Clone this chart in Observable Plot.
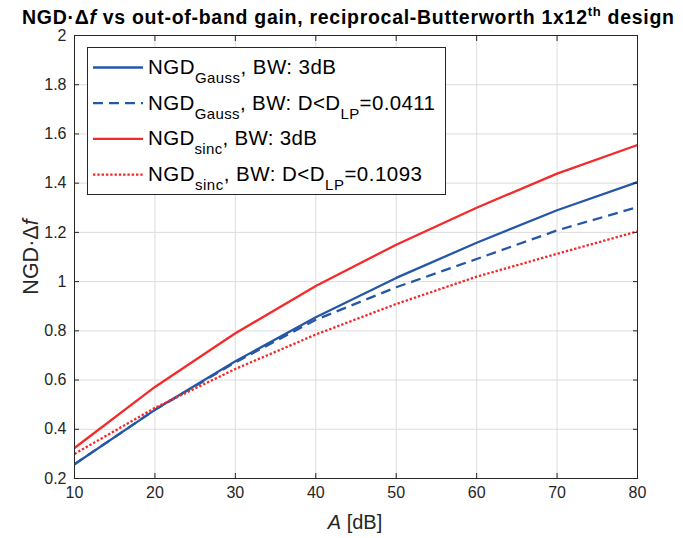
<!DOCTYPE html>
<html><head><meta charset="utf-8">
<script src="https://cdn.jsdelivr.net/npm/d3@7"></script>
<script src="https://cdn.jsdelivr.net/npm/@observablehq/plot@0.6"></script>
<style>
body{margin:0;background:#fff;}
#wrap{position:relative;width:683px;height:538px;font-family:"Liberation Sans",Arial,Helvetica,sans-serif;}
#wrap svg.overlay{position:absolute;left:0;top:0;pointer-events:none;}
</style>
</head><body>
<div id="wrap"></div>
<script>
// Data
const A = [10, 20, 30, 40, 50, 60, 70, 80];
const gauss3dB = [0.258, 0.479, 0.676, 0.855, 1.015, 1.158, 1.290, 1.404];
const gaussDLP = [0.258, 0.479, 0.672, 0.845, 0.977, 1.092, 1.208, 1.303];
const sinc3dB  = [0.324, 0.572, 0.790, 0.982, 1.150, 1.300, 1.439, 1.555];
const sincDLP  = [0.300, 0.487, 0.645, 0.785, 0.909, 1.020, 1.113, 1.204];
const xTicks = [10, 20, 30, 40, 50, 60, 70, 80];
const yTicks = [0.2, 0.4, 0.6, 0.8, 1, 1.2, 1.4, 1.6, 1.8, 2];
const yTickLabels = ["0.2","0.4","0.6","0.8","1","1.2","1.4","1.6","1.8","2"];

const BLUE = "#2557a7", RED = "#f42a2a";
const series = [
  {key: "g3", values: gauss3dB, color: BLUE, dash: null},
  {key: "gD", values: gaussDLP, color: BLUE, dash: "10,6"},
  {key: "s3", values: sinc3dB, color: RED, dash: null},
  {key: "sD", values: sincDLP, color: RED, dash: "2.4,1.9"}
];
const table = series.flatMap(s => A.map((a, i) => ({key: s.key, A: a, v: s.values[i]})));

const W = 683, H = 538;
const chart = Plot.plot({
  width: W, height: H,
  marginLeft: 74, marginRight: 46, marginTop: 35, marginBottom: 60,
  style: {fontFamily: '"Liberation Sans", Arial, sans-serif', fontSize: "16px", color: "#262626", background: "white"},
  x: {domain: [10, 80], ticks: xTicks, label: null},
  y: {domain: [0.2, 2], ticks: yTicks, label: null},
  marks: [
    Plot.gridX(xTicks, {stroke: "#dcdcdc", strokeOpacity: 1, strokeWidth: 1}),
    Plot.gridY(yTicks, {stroke: "#dcdcdc", strokeOpacity: 1, strokeWidth: 1}),
    ...series.map(s => Plot.line(table.filter(d => d.key === s.key), {
      x: "A", y: "v", stroke: s.color, strokeWidth: 2.3,
      strokeDasharray: s.dash, strokeLinecap: "butt"
    })),
    Plot.frame({stroke: "#262626", strokeWidth: 1}),
    Plot.axisX(xTicks, {anchor: "bottom", tickSize: -5, tickPadding: 13, label: null, fontSize: 16}),
    Plot.axisX(xTicks, {anchor: "top", tickSize: -5, tickFormat: () => "", label: null}),
    Plot.axisY(yTicks, {anchor: "left", tickSize: -5, tickPadding: 13, tickFormat: (d, i) => yTickLabels[i], label: null, fontSize: 16}),
    Plot.axisY(yTicks, {anchor: "right", tickSize: -5, tickFormat: () => "", label: null})
  ]
});
const wrap = document.getElementById("wrap");
wrap.appendChild(chart);

// overlay: title, axis labels, legend
const svg = d3.select(wrap).append("svg").attr("class", "overlay")
  .attr("width", W).attr("height", H)
  .style("font-family", '"Liberation Sans", Arial, sans-serif');

const title = svg.append("text").attr("x", 22).attr("y", 24)
  .attr("font-size", 19.5).attr("font-weight", "bold").attr("fill", "#000")
  .attr("textLength", 652).attr("lengthAdjust", "spacing");
title.append("tspan").text("NGD\u00B7\u0394");
title.append("tspan").attr("font-style", "italic").text("f");
title.append("tspan").text(" vs out-of-band gain, reciprocal-Butterworth 1x12");
title.append("tspan").attr("font-size", 13).attr("dy", -8).text("th");
title.append("tspan").attr("dy", 8).text(" design");

const yl = svg.append("text").attr("transform", "translate(38,257) rotate(-90)")
  .attr("text-anchor", "middle").attr("font-size", 21.5).attr("fill", "#262626");
yl.append("tspan").text("NGD\u00B7\u0394");
yl.append("tspan").attr("font-style", "italic").text("f");

const xl = svg.append("text").attr("x", 355).attr("y", 529).attr("text-anchor", "middle")
  .attr("font-size", 20).attr("fill", "#262626");
xl.append("tspan").attr("font-style", "italic").text("A");
xl.append("tspan").text(" [dB]");

// legend
const leg = svg.append("g").attr("transform", "translate(87,47)");
leg.append("rect").attr("x", 0.5).attr("y", 0.5).attr("width", 358).attr("height", 147)
  .attr("fill", "white").attr("stroke", "#262626").attr("stroke-width", 1);
const legendRows = [
  {main: "NGD", sub: "Gauss", rest: ", BW: 3dB", sub2: null, rest2: null, len: 188},
  {main: "NGD", sub: "Gauss", rest: ", BW: D<D", sub2: "LP", rest2: "=0.0411", len: 287},
  {main: "NGD", sub: "sinc", rest: ", BW: 3dB", sub2: null, rest2: null, len: 169},
  {main: "NGD", sub: "sinc", rest: ", BW: D<D", sub2: "LP", rest2: "=0.1093", len: 274}
];
legendRows.forEach((r, i) => {
  const s = series[i];
  const cy = 20.5 + i * 35.7;
  leg.append("line").attr("x1", 6).attr("x2", 56).attr("y1", cy).attr("y2", cy)
    .attr("stroke", s.color).attr("stroke-width", 2.3).attr("stroke-dasharray", s.dash);
  const t = leg.append("text").attr("x", 61).attr("y", cy + 6.5).attr("font-size", 20.5).attr("fill", "#000")
    .attr("textLength", r.len).attr("lengthAdjust", "spacing");
  t.append("tspan").text(r.main);
  t.append("tspan").attr("font-size", 15).attr("dy", 9).text(r.sub);
  t.append("tspan").attr("dy", -9).text(r.rest);
  if (r.sub2) {
    t.append("tspan").attr("font-size", 15).attr("dy", 9).text(r.sub2);
    t.append("tspan").attr("dy", -9).text(r.rest2);
  }
});
</script>
</body></html>
